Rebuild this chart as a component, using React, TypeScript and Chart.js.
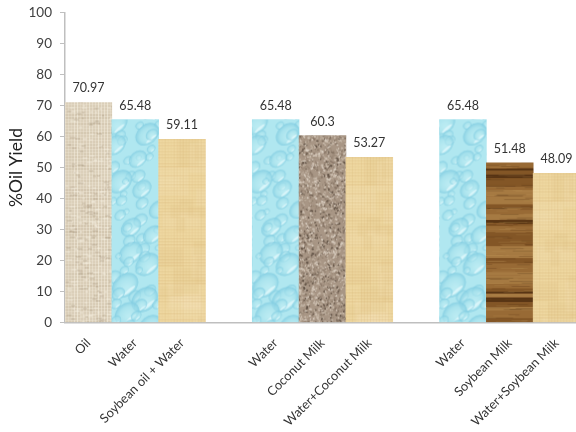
import React, { useEffect, useRef } from "react";
import { Chart, registerables } from "chart.js";

Chart.register(...registerables);

// Three experiment groups, separated by empty categories.
const categories = [
  "Oil", "Water", "Soybean oil + Water", "",
  "Water", "Coconut Milk", "Water+Coconut Milk", "",
  "Water", "Soybean Milk", "Water+Soybean Milk",
];
const oilYield = [70.97, 65.48, 59.11, null, 65.48, 60.3, 53.27, null, 65.48, 51.48, 48.09];
const fills = ["burlap", "water", "papyrus", "", "water", "granite", "papyrus", "", "water", "wood", "papyrus"];
const yTicks = [0, 10, 20, 30, 40, 50, 60, 70, 80, 90, 100];

const FONT = "Lato, 'Open Sans', sans-serif";
const TILE_W = 47;
const TILE_H = 222;

// Small repeatable generator so the surface textures look the same on every draw.
function noise(seed: number) {
  let s = seed;
  return () => {
    s = (s * 1664525 + 1013904223) % 4294967296;
    return s / 4294967296;
  };
}

function makeTile(paint: (c: CanvasRenderingContext2D, r: () => number) => void, seed: number, blur = 0.5) {
  const raw = document.createElement("canvas");
  raw.width = TILE_W;
  raw.height = TILE_H;
  paint(raw.getContext("2d")!, noise(seed));
  const out = document.createElement("canvas");
  out.width = TILE_W;
  out.height = TILE_H;
  const c = out.getContext("2d")!;
  c.filter = `blur(${blur}px)`;
  c.drawImage(raw, 0, 0);
  return out;
}

function paintBurlap(c: CanvasRenderingContext2D, r: () => number) {
  c.fillStyle = "#e0d5c0";
  c.fillRect(0, 0, TILE_W, TILE_H);
  for (let y = 0; y < TILE_H; y += 3) {
    c.fillStyle = `rgba(165,145,115,${0.12 + r() * 0.3})`;
    c.fillRect(0, y, TILE_W, 1);
  }
  for (let x = 0; x < TILE_W; x += 3) {
    c.fillStyle = `rgba(248,243,230,${0.2 + r() * 0.4})`;
    c.fillRect(x, 0, 1, TILE_H);
  }
  for (let i = 0; i < 260; i++) {
    c.fillStyle = r() > 0.5 ? "rgba(250,245,232,0.6)" : "rgba(140,120,95,0.35)";
    c.fillRect(r() * TILE_W, r() * TILE_H, 2 + r() * 4, 1);
  }
}

function paintWater(c: CanvasRenderingContext2D, r: () => number) {
  c.fillStyle = "#b0e7f0";
  c.fillRect(0, 0, TILE_W, TILE_H);
  for (let i = 0; i < 60; i++) {
    const x = (i * 17.3 + r() * 14) % TILE_W;
    const y = (i / 60) * TILE_H + r() * 10 - 5;
    const rad = i % 4 === 0 ? 10 + r() * 5 : 3 + r() * 5;
    c.save();
    c.translate(x, y);
    c.rotate(-0.7);
    c.scale(1, 0.75);
    const g = c.createRadialGradient(0, rad * 0.35, rad * 0.1, 0, 0, rad);
    g.addColorStop(0, "rgba(200,241,246,0.45)");
    g.addColorStop(0.65, "rgba(165,225,236,0.6)");
    g.addColorStop(1, "rgba(125,202,224,0.75)");
    c.fillStyle = g;
    c.beginPath();
    c.arc(0, 0, rad, 0, Math.PI * 2);
    c.fill();
    c.fillStyle = "rgba(232,251,253,0.7)";
    c.beginPath();
    c.ellipse(0, rad * 0.62, rad * 0.5, rad * 0.14, 0, 0, Math.PI * 2);
    c.fill();
    c.restore();
  }
}

function paintPapyrus(c: CanvasRenderingContext2D, r: () => number) {
  c.fillStyle = "#eed7a0";
  c.fillRect(0, 0, TILE_W, TILE_H);
  for (let i = 0; i < 30; i++) {
    c.fillStyle = `rgba(${r() > 0.5 ? "248,232,190" : "222,190,130"},0.16)`;
    c.fillRect(r() * TILE_W - 6, r() * TILE_H, 8 + r() * 30, 6 + r() * 30);
  }
  for (let y = 0; y < TILE_H; y += 3) {
    c.fillStyle = `rgba(205,165,100,${0.05 + r() * 0.22})`;
    c.fillRect(0, y, TILE_W, 1);
  }
  for (let x = 0; x < TILE_W; x += 3) {
    c.fillStyle = `rgba(210,170,105,${0.04 + r() * 0.15})`;
    c.fillRect(x, 0, 1, TILE_H);
  }
}

function paintGranite(c: CanvasRenderingContext2D, r: () => number) {
  c.fillStyle = "#a89685";
  c.fillRect(0, 0, TILE_W, TILE_H);
  const tones = ["#cdbfb0", "#8a7868", "#bdae9d", "#655649", "#9c8a79", "#d8cdc0"];
  for (let i = 0; i < 2600; i++) {
    c.fillStyle = tones[Math.floor(r() * tones.length)];
    c.beginPath();
    c.ellipse(r() * TILE_W, r() * TILE_H, 0.5 + r() * 1.1, 0.4 + r() * 0.7, r() * 3, 0, Math.PI * 2);
    c.fill();
  }
}

function paintWood(c: CanvasRenderingContext2D, r: () => number) {
  c.fillStyle = "#8f6030";
  c.fillRect(0, 0, TILE_W, TILE_H);
  let y = 0;
  while (y < TILE_H) {
    const v = r();
    const h = v > 0.75 ? 1.5 + r() * 1.5 : 3 + r() * 6;
    c.fillStyle = v > 0.75 ? "#583514" : v > 0.5 ? "#835626" : v > 0.2 ? "#986a35" : "#a67a42";
    c.fillRect(0, y, TILE_W, h);
    y += h;
  }
  for (let i = 0; i < 160; i++) {
    c.fillStyle = r() > 0.5 ? "rgba(70,40,15,0.2)" : "rgba(200,160,100,0.18)";
    c.fillRect(r() * TILE_W - 8, r() * TILE_H, 8 + r() * 26, 1);
  }
}

// Writes each bar's value just above it.
const valueLabels = {
  id: "valueLabels",
  afterDatasetsDraw(chart: Chart) {
    const { ctx } = chart;
    const bars = chart.getDatasetMeta(0).data;
    ctx.save();
    ctx.font = `12.5px ${FONT}`;
    ctx.fillStyle = "#333333";
    ctx.textAlign = "center";
    ctx.textBaseline = "alphabetic";
    oilYield.forEach((v, i) => {
      if (v === null) return;
      ctx.fillText(String(v), bars[i].x, bars[i].y - 10);
    });
    ctx.restore();
  },
};

export default function App() {
  const ref = useRef<HTMLCanvasElement>(null);

  useEffect(() => {
    document.body.style.margin = "0";
    const tiles: Record<string, HTMLCanvasElement> = {
      burlap: makeTile(paintBurlap, 11, 0.4),
      water: makeTile(paintWater, 29, 0.7),
      papyrus: makeTile(paintPapyrus, 47, 0.5),
      granite: makeTile(paintGranite, 83, 0.4),
      wood: makeTile(paintWood, 101, 0.5),
    };
    const chart = new Chart(ref.current!, {
      type: "bar",
      data: {
        labels: categories,
        datasets: [
          {
            data: oilYield,
            categoryPercentage: 1,
            barPercentage: 1,
            borderWidth: 0,
            // Each bar gets its own pattern, pinned to the bar's top-left corner.
            backgroundColor: (ctx: any) => {
              const name = fills[ctx.dataIndex];
              if (!name || !ctx.chart.scales.x) return "transparent";
              const x = ctx.chart.scales.x.getPixelForValue(ctx.dataIndex);
              const y = ctx.chart.scales.y.getPixelForValue(oilYield[ctx.dataIndex] ?? 0);
              const pattern = ctx.chart.ctx.createPattern(tiles[name], "repeat")!;
              pattern.setTransform(new DOMMatrix().translate(x - 23.4, y));
              return pattern;
            },
          },
        ],
      },
      options: {
        responsive: false,
        animation: false,
        layout: { padding: { top: 12.5, left: 0, right: 0, bottom: 0 } },
        plugins: { legend: { display: false }, tooltip: { enabled: false } },
        scales: {
          x: {
            grid: { display: false },
            border: { color: "#bfbfbf", width: 1.5 },
            ticks: {
              autoSkip: false,
              minRotation: 45,
              maxRotation: 45,
              padding: 5,
              color: "#333333",
              font: { family: FONT, size: 12.75 },
            },
            afterFit(scale: any) {
              scale.height = 109.5;
              scale.paddingLeft = 0;
              scale.paddingRight = 0;
            },
          },
          y: {
            min: 0,
            max: 100,
            afterBuildTicks(scale: any) {
              scale.ticks = yTicks.map((value) => ({ value }));
            },
            grid: { drawOnChartArea: false, color: "#bfbfbf", tickLength: 5 },
            border: { color: "#bfbfbf", width: 1.5 },
            ticks: {
              padding: 8,
              color: "#404040",
              font: { family: FONT, size: 13.5 },
            },
            title: {
              display: true,
              text: "%Oil Yield",
              color: "#222222",
              font: { family: FONT, size: 17.5 },
              padding: { top: 6, bottom: 0 },
            },
            afterFit(scale: any) {
              scale.width = 65;
              scale.paddingTop = 0;
              scale.paddingBottom = 0;
            },
          },
        },
      },
      plugins: [valueLabels],
    });
    return () => chart.destroy();
  }, []);

  return (
    <div style={{ width: 576, height: 432, overflow: "hidden" }}>
      <canvas ref={ref} width={580} height={432} style={{ display: "block" }} />
    </div>
  );
}
